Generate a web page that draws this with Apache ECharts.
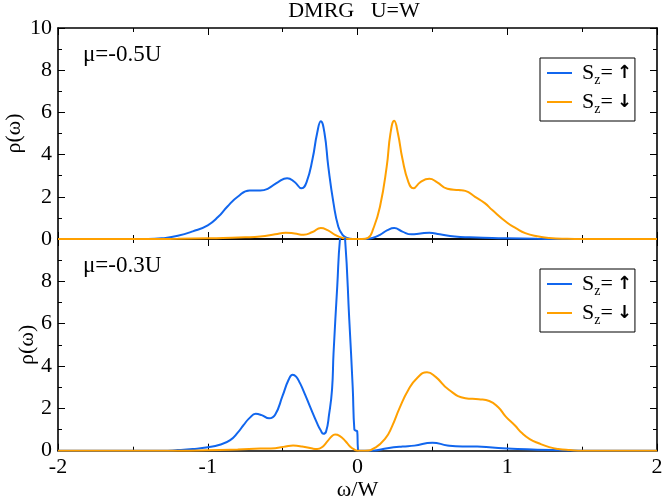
<!DOCTYPE html>
<html lang="en" style="height: 100%">
<head>
  <meta charset="utf-8">
</head>
<body style="height: 100%; margin: 0; background: #fff">
  <div id="container" style="width: 664px; height: 497px"></div>

  <script type="text/javascript" src="https://fastly.jsdelivr.net/npm/echarts@6/dist/echarts.min.js"></script>
  <script type="text/javascript">
    // mu = -0.5U panel, [omega/W, rho]
    var upTop = [
      [-2, 0], [-1.4, 0], [-1.3, 0.04], [-1.2, 0.15], [-1.1, 0.36], [-1.0, 0.65],
      [-0.93, 1.05], [-0.87, 1.53], [-0.8, 2.0], [-0.72, 2.3], [-0.65, 2.3],
      [-0.6, 2.38], [-0.53, 2.7], [-0.47, 2.88], [-0.42, 2.7], [-0.373, 2.4],
      [-0.34, 2.7], [-0.3, 3.8], [-0.27, 5.0], [-0.245, 5.58], [-0.22, 5.0],
      [-0.195, 3.43], [-0.16, 1.69], [-0.128, 0.58], [-0.1, 0.2], [-0.07, 0.05],
      [-0.03, 0], [0.05, 0], [0.1, 0.05], [0.15, 0.2], [0.2, 0.42], [0.245, 0.52],
      [0.3, 0.35], [0.36, 0.22], [0.42, 0.26], [0.48, 0.3], [0.55, 0.22],
      [0.65, 0.12], [0.75, 0.08], [0.9, 0.05], [1.0, 0.03], [1.2, 0.01], [1.4, 0], [2, 0]
    ];
    var downTop = [
      [-2, 0], [-1.4, 0], [-1.2, 0.01], [-1.0, 0.03], [-0.9, 0.05], [-0.75, 0.08],
      [-0.65, 0.12], [-0.55, 0.22], [-0.48, 0.3], [-0.42, 0.26], [-0.36, 0.2],
      [-0.3, 0.33], [-0.245, 0.52], [-0.2, 0.42], [-0.15, 0.2], [-0.1, 0.05],
      [-0.05, 0], [0.03, 0], [0.07, 0.05], [0.106, 0.5], [0.15, 1.53], [0.195, 3.43],
      [0.22, 5.0], [0.245, 5.6], [0.27, 5.0], [0.3, 3.8], [0.34, 2.7], [0.373, 2.4],
      [0.42, 2.7], [0.48, 2.85], [0.53, 2.7], [0.6, 2.38], [0.676, 2.32], [0.72, 2.28],
      [0.785, 2.0], [0.85, 1.7], [0.9, 1.37], [1.0, 0.77], [1.06, 0.5], [1.12, 0.28],
      [1.2, 0.13], [1.28, 0.05], [1.4, 0.01], [1.5, 0], [2, 0]
    ];

    // mu = -0.3U panel
    var upBottom = [
      [-2, 0], [-1.3, 0], [-1.2, 0.03], [-1.1, 0.08], [-1.0, 0.16], [-0.92, 0.28],
      [-0.85, 0.5], [-0.8, 0.85], [-0.76, 1.22], [-0.72, 1.55], [-0.68, 1.74],
      [-0.64, 1.68], [-0.59, 1.53], [-0.55, 1.7], [-0.5, 2.6], [-0.46, 3.35],
      [-0.433, 3.59], [-0.41, 3.5], [-0.384, 3.19], [-0.35, 2.65], [-0.317, 2.08],
      [-0.27, 1.3], [-0.245, 0.95], [-0.228, 0.8], [-0.21, 0.9], [-0.19, 1.7],
      [-0.17, 2.9], [-0.16, 4.6], [-0.135, 7.8], [-0.117, 10], [-0.1, 10.6],
      [-0.083, 10], [-0.055, 6.2], [-0.032, 3.0], [-0.021, 1.0], [-0.012, 0.95],
      [-0.002, 0.92], [0.003, 0.1], [0.01, 0], [0.1, 0], [0.2, 0.12], [0.3, 0.2],
      [0.38, 0.24], [0.5, 0.38], [0.6, 0.25], [0.7, 0.2], [0.8, 0.2], [0.9, 0.15],
      [1.0, 0.1], [1.2, 0.05], [1.4, 0.01], [1.5, 0], [2, 0]
    ];
    var downBottom = [
      [-2, 0], [-1.2, 0], [-1.0, 0.02], [-0.8, 0.06], [-0.65, 0.1], [-0.55, 0.12],
      [-0.48, 0.2], [-0.43, 0.24], [-0.37, 0.2], [-0.3, 0.1], [-0.27, 0.08],
      [-0.24, 0.15], [-0.2, 0.45], [-0.17, 0.7], [-0.15, 0.76], [-0.12, 0.7],
      [-0.08, 0.45], [-0.05, 0.2], [-0.02, 0.05], [0, 0], [0.05, 0], [0.12, 0.15],
      [0.186, 0.58], [0.23, 1.14], [0.28, 2.0], [0.34, 2.88], [0.4, 3.45],
      [0.464, 3.71], [0.52, 3.5], [0.61, 2.88], [0.72, 2.48], [0.81, 2.43],
      [0.88, 2.35], [0.94, 2.05], [0.99, 1.61], [1.05, 1.2], [1.1, 0.82],
      [1.15, 0.55], [1.21, 0.35], [1.28, 0.17], [1.34, 0.08], [1.42, 0.03], [1.5, 0], [2, 0]
    ];

    var seriesNames = ['up', 'down'];
    var panelLabels = ['\u03bc=-0.5U', '\u03bc=-0.3U'];

    var FONT = "'Liberation Serif', serif";
    var BLUE = '#1166ee';
    var ORANGE = '#ffa000';

    var dom = document.getElementById('container');
    var myChart = echarts.init(dom);

    function xAxis(grid, pos, labels, name) {
      return {
        type: 'value', gridIndex: grid, position: pos,
        min: -2, max: 2, interval: 1,
        name: name || '', nameLocation: 'middle', nameGap: 27,
        nameTextStyle: { fontFamily: FONT, fontSize: 22, color: '#000' },
        axisLine: { show: true, onZero: false, lineStyle: { color: '#000', width: 1.6 } },
        axisTick: { show: true, inside: true, length: 7, lineStyle: { color: '#000', width: 1 } },
        minorTick: { show: true, splitNumber: 2, length: 4, lineStyle: { color: '#000', width: 1 } },
        axisLabel: { show: labels, margin: 6, fontFamily: FONT, fontSize: 22, color: '#000' },
        splitLine: { show: false }
      };
    }
    function yAxis(grid, pos, labels, name, gap, hideMax) {
      return {
        type: 'value', gridIndex: grid, position: pos,
        min: 0, max: 10, interval: 2,
        name: name || '', nameLocation: 'middle', nameGap: gap || 0, nameRotate: 90,
        nameMoveOverlap: false,
        nameTextStyle: { fontFamily: FONT, fontSize: 22, color: '#000' },
        axisLine: { show: true, onZero: false, lineStyle: { color: '#000', width: 1.6 } },
        axisTick: { show: true, inside: true, length: 7, lineStyle: { color: '#000', width: 1 } },
        minorTick: { show: true, splitNumber: 2, length: 4, lineStyle: { color: '#000', width: 1 } },
        axisLabel: { show: labels, margin: 6, showMaxLabel: !hideMax, fontFamily: FONT, fontSize: 22, color: '#000' },
        splitLine: { show: false }
      };
    }
    function legend(top) {
      return {
        data: seriesNames.map(function (n) { return { name: n, icon: 'rect' }; }),
        orient: 'vertical',
        left: 540, top: top,
        backgroundColor: '#fff',
        borderColor: '#000', borderWidth: 1, borderRadius: 0,
        padding: [4, 3, 5, 7],
        itemWidth: 25, itemHeight: 2, itemGap: 4,
        selectedMode: false,
        formatter: function (n) {
          return '{s|S}{z|z}{e|=}{a|' + (n === 'up' ? '\u2191' : '\u2193') + '}';
        },
        textStyle: {
          color: '#000', fontFamily: FONT,
          rich: {
            s: { fontFamily: FONT, fontSize: 22, lineHeight: 28, padding: [0, 0, 0, 5], verticalAlign: 'middle' },
            z: { fontFamily: FONT, fontSize: 14, lineHeight: 8, verticalAlign: 'bottom' },
            e: { fontFamily: FONT, fontSize: 22, lineHeight: 28, verticalAlign: 'middle', padding: [0, 4, 0, 0] },
            a: { fontFamily: 'DejaVu Sans', fontSize: 18, fontWeight: 'bold', lineHeight: 28, verticalAlign: 'middle' }
          }
        }
      };
    }
    function line(name, data, grid, color) {
      return {
        name: name, type: 'line', data: data,
        xAxisIndex: grid * 2, yAxisIndex: grid * 2,
        symbol: 'none', smooth: 0.5,
        lineStyle: { color: color, width: 2 },
        itemStyle: { color: color },
        clip: true, silent: true
      };
    }

    var option = {
      backgroundColor: '#fff',
      animation: false,
      textStyle: { fontFamily: FONT },
      grid: [
        { left: 58, right: 7, top: 28, height: 211, outerBoundsMode: 'none' },
        { left: 58, right: 7, top: 239, height: 211.7, outerBoundsMode: 'none' }
      ],
      xAxis: [
        xAxis(0, 'bottom', false), xAxis(0, 'top', false),
        xAxis(1, 'bottom', true, '\u03c9/W'), xAxis(1, 'top', false)
      ],
      yAxis: [
        yAxis(0, 'left', true, '\u03c1(\u03c9)', 33), yAxis(0, 'right', false),
        yAxis(1, 'left', true, '\u03c1(\u03c9)', 20, true), yAxis(1, 'right', false)
      ],
      legend: [legend(58), legend(269)],
      graphic: [
        { type: 'text', x: 354, y: 0, style: { text: 'DMRG   U=W', fontFamily: FONT, fontSize: 22, fill: '#000', align: 'center' } },
        { type: 'text', x: 83, y: 43, style: { text: panelLabels[0], fontFamily: FONT, fontSize: 23, fill: '#000' } },
        { type: 'text', x: 83, y: 254, style: { text: panelLabels[1], fontFamily: FONT, fontSize: 23, fill: '#000' } }
      ],
      series: [
        line('up', upTop, 0, BLUE),
        line('down', downTop, 0, ORANGE),
        line('up', upBottom, 1, BLUE),
        line('down', downBottom, 1, ORANGE)
      ]
    };

    myChart.setOption(option);
    window.addEventListener('resize', myChart.resize);
  </script>
</body>
</html>
